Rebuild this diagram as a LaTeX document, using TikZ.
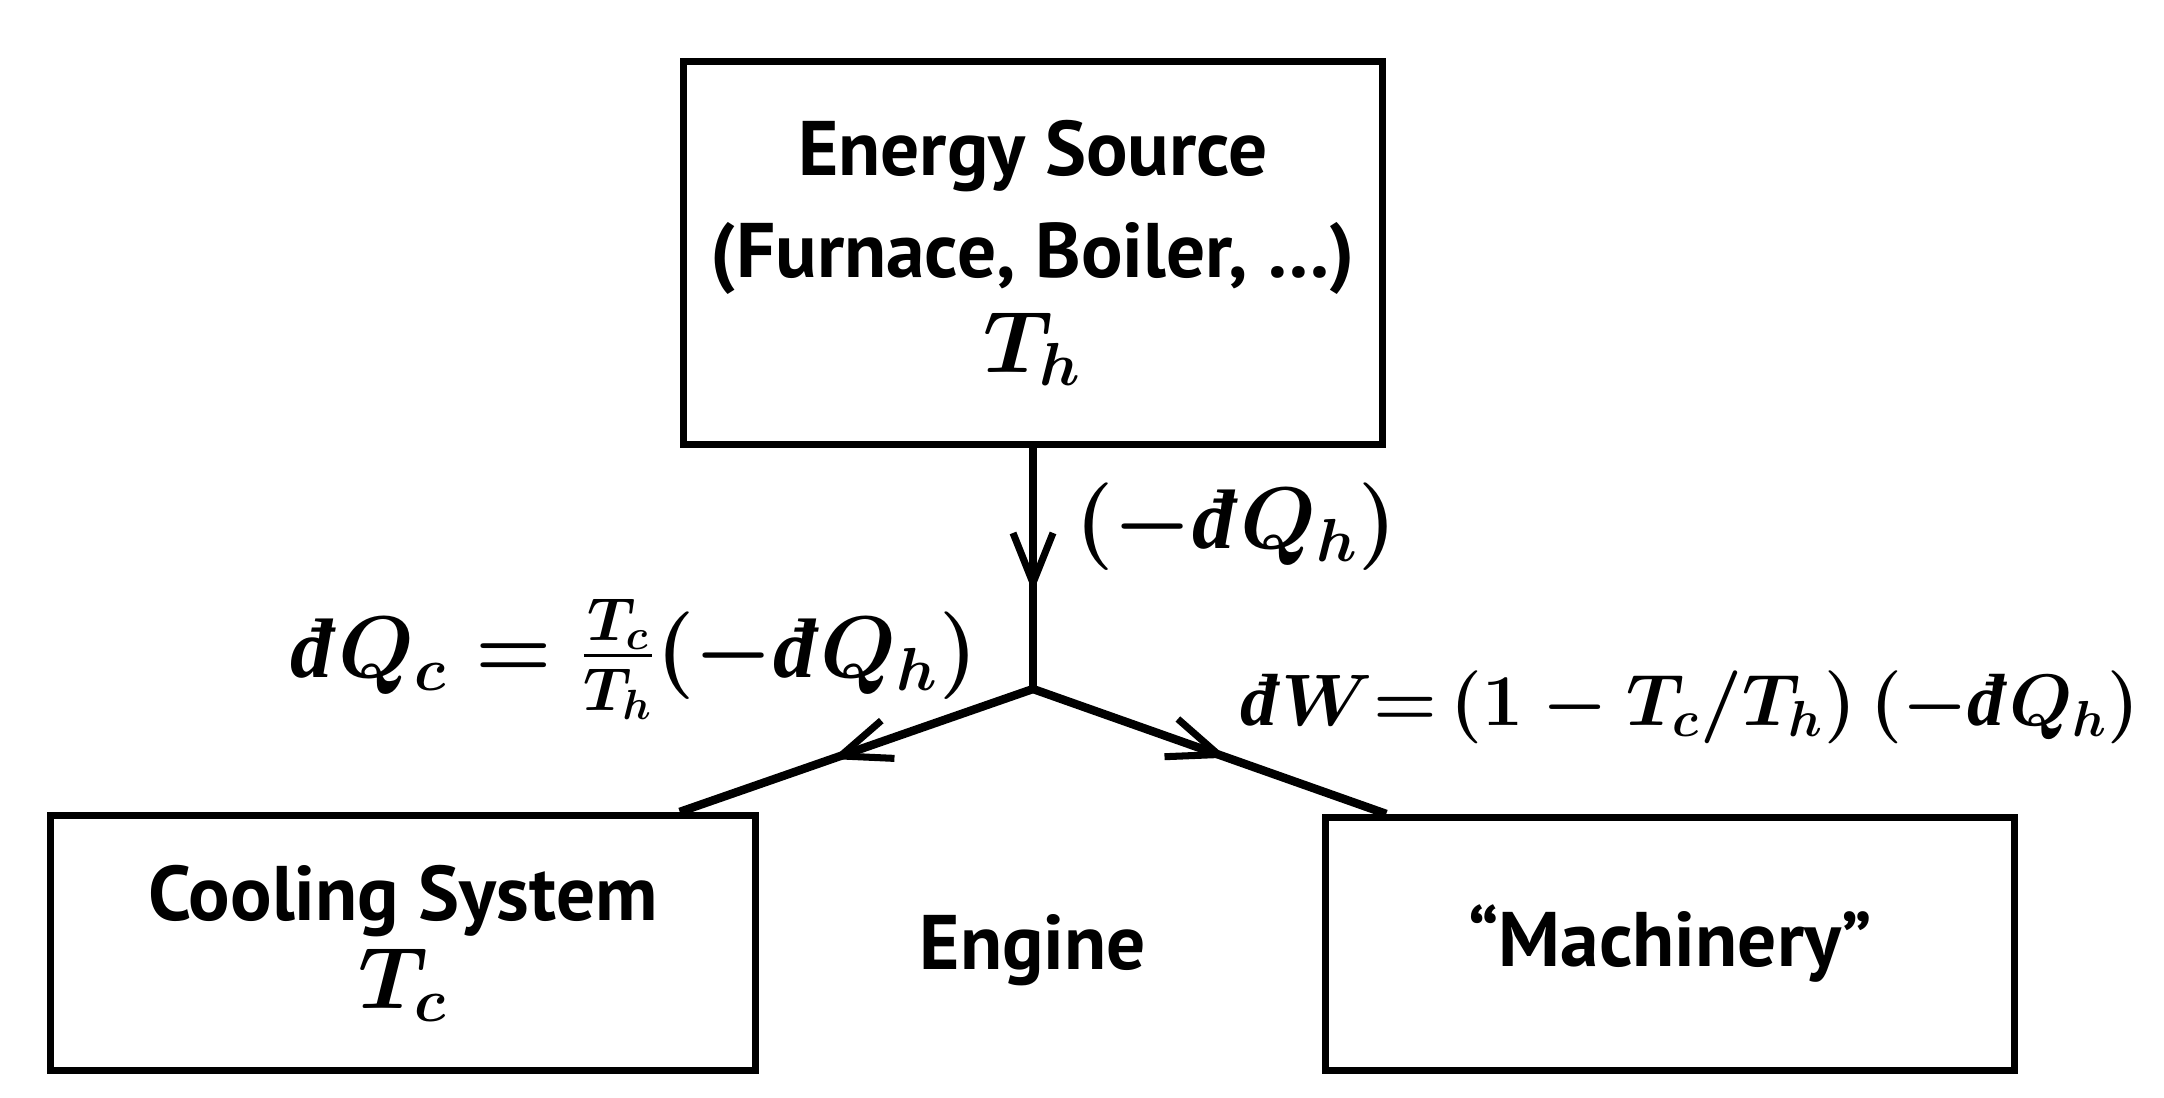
\documentclass[tikz,border=0pt]{standalone}
\usepackage{amsmath, amssymb}
\usepackage[no-math]{fontspec}
\setmainfont{PT Sans}
\newfontfamily\dfont{Liberation Serif}
\usepackage{tikz}
\usetikzlibrary{arrows.meta}
\usetikzlibrary{decorations.markings}

\newcommand{\dbar}{\text{\dfont\bfseries\itshape đ}\mkern1mu}
\newcommand{\bigT}[1]{{\fontsize{26}{30}\selectfont\boldmath$#1$}}

\begin{document}
\begin{tikzpicture}[x=0.01cm, y=-0.01cm,
        block/.style={draw, line width=2pt, inner sep=0pt, align=center,
            font=\fontsize{22}{28}\selectfont\bfseries},
        flow/.style={line width=2.4pt, postaction={decorate},
            decoration={markings, mark=at position #1 with
                {\arrow{Straight Barb[length=5mm, width=4mm, line width=2pt]}}}},
        eq/.style={font=\fontsize{24}{28}\selectfont\boldmath, inner sep=0pt}]
        \useasboundingbox (0,0) rectangle (2164,1098);

        % Boxes
        \node[block, minimum width=6.99cm, minimum height=3.82cm] (src) at (1033,253)
            {Energy Source\\[1pt](Furnace, Boiler, \dots)\\[-1pt]\bigT{T_h}};
        \node[block, minimum width=7.05cm, minimum height=2.55cm] (cool) at (403,943)
            {Cooling System\\[-3pt]\bigT{T_c}};
        \node[block, minimum width=6.89cm, minimum height=2.53cm] (mach) at (1670,944)
            {``Machinery''};
        \node[font=\fontsize{22}{28}\selectfont\bfseries] (engine) at (1033,950) {Engine};

        % Flows
        \coordinate (jn) at (1033,689);
        \draw[flow=0.6] (src) -- (jn);
        \draw[flow=0.57] (jn) -- (cool.north -| src.west);
        \draw[flow=0.55] (jn) -- (mach.north -| src.east);

        % Labels
        \node[eq, anchor=west] (qh) at (1075,527) {$(-\dbar Q_h)$};
        \node[eq] (qc) at (634,659) {$\dbar Q_c=\frac{T_c}{T_h}(-\dbar Q_h)$};
        \node[eq, font=\fontsize{21}{26}\selectfont\boldmath] (w) at (1690,707)
            {$\dbar W{=}\,(1-T_c/T_h)\,(-\dbar Q_h)$};

    \end{tikzpicture}
\end{document}
